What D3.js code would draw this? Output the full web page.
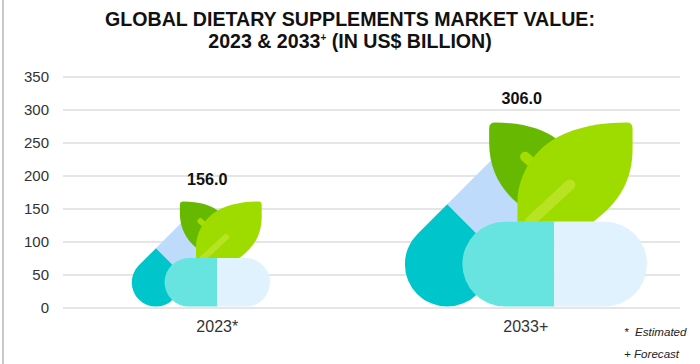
<!DOCTYPE html>
<html><head><meta charset="utf-8">
<script src="https://cdn.jsdelivr.net/npm/d3@7"></script>
<style>html,body{margin:0;padding:0;background:#fff}svg{display:block;font-family:"Liberation Sans",Arial,sans-serif}</style>
</head><body><div id="c"></div>
<script>
const categories = ["2023*", "2033+"];
const values = [156.0, 306.0];
const yTicks = [0, 50, 100, 150, 200, 250, 300, 350];
const titleLines = ["GLOBAL DIETARY SUPPLEMENTS MARKET VALUE:", "2023 & 2033"];
const notes = ["*\u00a0\u00a0Estimated", "+ Forecast"];

const W = 700, H = 364;
const svg = d3.select("#c").append("svg").attr("width", W).attr("height", H);
const x = d3.scaleBand().domain(categories).range([63, 680]);
const y = d3.scaleLinear().domain([0, 350]).range([308, 77]);
// icon height in px grows with the value
const iconH = d3.scaleLinear().domain(values).range([105, 184]);
const iconShift = [-16.5, 0], labelShift = [-10, -4];
const labelGap = [17, 19];

svg.append("rect").attr("x", 2).attr("y", 0).attr("width", 2).attr("height", H).attr("fill", "#c9c9c9");

// title
const t = svg.append("text").attr("text-anchor", "middle").attr("font-weight", "bold").attr("font-size", 19.6).attr("fill", "#111");
t.append("tspan").attr("x", 350).attr("y", 26).text(titleLines[0]);
const t2 = t.append("tspan").attr("x", 350).attr("y", 48);
t2.append("tspan").text(titleLines[1]);
t2.append("tspan").attr("font-size", 10).attr("dy", -7).text("+");
t2.append("tspan").attr("dy", 7).text(" (IN US$ BILLION)");

// grid
svg.append("g").selectAll("line").data(yTicks).join("line")
  .attr("x1", 63).attr("x2", 680).attr("y1", d => y(d)).attr("y2", d => y(d))
  .attr("stroke", "#dcdcdc").attr("stroke-width", 1.4);

// y axis
const ax = svg.append("g").attr("transform", "translate(63,0)").call(d3.axisLeft(y).tickValues(yTicks).tickSize(0).tickPadding(14));
ax.select(".domain").remove();
ax.selectAll("text").attr("font-size", 15).attr("font-family", "Liberation Sans").attr("fill", "#333");

// x axis
const bx = svg.append("g").attr("transform", "translate(0,308)").call(d3.axisBottom(x).tickSize(0).tickPadding(13));
bx.select(".domain").remove();
bx.selectAll("text").attr("font-size", 16).attr("font-family", "Liberation Sans").attr("fill", "#333");

// icon glyph in its own 726 x 553 box
const glyph = [
  {d:"M127 246L296 77L476 257L307 426Z", fill:"#BFDBFB"},
  {d:"M37 336L127 246L307 426L217 516A127 127 0 0 1 37 336Z", fill:"#00C5CB"},
  {d:"M271 0C356 0 416 20 456 50L456 190L341 245C286 200 253 140 253 60L253 18Q253 0 271 0Z", fill:"#66B900"},
  {d:"M361 103L386 125", stroke:"#A6DC00", w:30},
  {d:"M666 0Q684 0 684 18L684 80C684 170 646 240 566 298L338 298L338 240C338 170 376 90 456 45C516 12 596 0 666 0Z", fill:"#9EDC00"},
  {d:"M496 187L376 298", stroke:"#B8E323", w:32},
  {d:"M449 298L300 298A127.5 127.5 0 0 0 300 553L449 553Z", fill:"#68E4E0"},
  {d:"M449 298L600 298A127.5 127.5 0 0 1 600 553L449 553Z", fill:"#DFF2FE"}
];
const GW = 726, GH = 553;

const g = svg.append("g").selectAll("g").data(categories).join("g");
g.each(function(c, i) {
  const k = iconH(values[i]) / GH;
  const cx = x(c) + x.bandwidth() / 2 + iconShift[i];
  const top = y(0) - 1.5 - iconH(values[i]);
  const n = d3.select(this).append("g").attr("transform", `translate(${cx - GW * k / 2},${top}) scale(${k})`);
  n.selectAll("path").data(glyph).join("path").attr("d", d => d.d)
    .attr("fill", d => d.fill || "none").attr("stroke", d => d.stroke || null)
    .attr("stroke-width", d => d.w || null).attr("stroke-linecap", "round");
  d3.select(this).append("text").attr("x", x(c) + x.bandwidth() / 2 + labelShift[i]).attr("y", top - labelGap[i])
    .attr("text-anchor", "middle").attr("font-weight", "bold").attr("font-size", 16.2).attr("fill", "#111")
    .text(values[i].toFixed(1));
});

// notes
svg.append("g").selectAll("text").data(notes).join("text")
  .attr("x", 624).attr("y", (d, i) => 336 + i * 22)
  .attr("font-size", 11.6).attr("font-style", "italic").attr("fill", "#222").text(d => d);
</script></body></html>
